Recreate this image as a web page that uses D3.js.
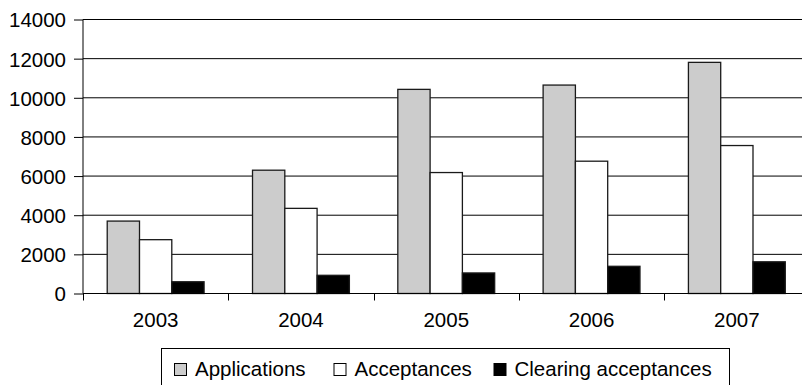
<!DOCTYPE html>
<html>
<head>
<meta charset="utf-8">
<script src="https://cdn.jsdelivr.net/npm/d3@7"></script>
<style>
  html, body { margin: 0; padding: 0; background: #fff; }
  svg { display: block; }
  text { font-family: "Liberation Sans", Arial, sans-serif; fill: #000; }
</style>
</head>
<body>
<svg id="chart" width="802" height="385"></svg>
<script>
const categories = ["2003", "2004", "2005", "2006", "2007"];
const seriesNames = ["Applications", "Acceptances", "Clearing acceptances"];
const applications = [3700, 6300, 10430, 10650, 11810];
const acceptances = [2750, 4350, 6180, 6760, 7560];
const clearing = [600, 930, 1050, 1390, 1620];
const yTicks = [0, 2000, 4000, 6000, 8000, 10000, 12000, 14000];
const seriesColors = ["#cccccc", "#ffffff", "#000000"];

const seriesValues = [applications, acceptances, clearing];
const rows = categories.map((c, i) => ({
  cat: c,
  vals: seriesNames.map((s, k) => ({ s, v: seriesValues[k][i], color: seriesColors[k] }))
}));

const svg = d3.select("#chart");
const fontSize = 20.5;

const x = d3.scaleBand().domain(categories).range([83, 809.5]).padding(0);
const xs = d3.scaleBand().domain(seriesNames).range([0, x.bandwidth()])
  .paddingInner(0).paddingOuter(0.75);
const y = d3.scaleLinear().domain([0, 14000]).range([293.5, 19.5]);

// gridlines
svg.append("g").selectAll("line").data(yTicks.filter(t => t > 0)).join("line")
  .attr("x1", 83).attr("x2", 809.5)
  .attr("y1", d => y(d)).attr("y2", d => y(d))
  .attr("stroke", "#000").attr("stroke-width", 1);

// bars
const groups = svg.append("g").selectAll("g").data(rows).join("g")
  .attr("transform", d => `translate(${x(d.cat)},0)`);
groups.selectAll("rect").data(d => d.vals).join("rect")
  .attr("x", d => xs(d.s))
  .attr("width", xs.bandwidth())
  .attr("y", d => y(d.v))
  .attr("height", d => y(0) - y(d.v))
  .attr("fill", d => d.color)
  .attr("stroke", "#1a1a1a").attr("stroke-width", 1.3);

// y axis
const yAxis = d3.axisLeft(y).tickValues(yTicks).tickFormat(d3.format("d"))
  .tickSize(9).tickPadding(8);
const gy = svg.append("g").attr("transform", "translate(83,0)").call(yAxis);
gy.select(".domain").attr("stroke", "#000").attr("d", `M0,${y(14000)}V${y(0)}`);
gy.selectAll(".tick line").attr("stroke", "#000");
gy.selectAll(".tick text").style("font-size", fontSize + "px").attr("dy", "0.36em");

// x axis
const gx = svg.append("g").attr("transform", `translate(0,${y(0)})`);
gx.append("line").attr("x1", 83).attr("x2", 809.5).attr("y1", 0).attr("y2", 0)
  .attr("stroke", "#000");
const boundaries = categories.map(c => x(c)).concat([x.range()[1]]);
gx.selectAll("line.bt").data(boundaries).join("line").attr("class", "bt")
  .attr("x1", d => Math.round(d) + 0.5).attr("x2", d => Math.round(d) + 0.5)
  .attr("y1", 0).attr("y2", 7).attr("stroke", "#000");
gx.selectAll("text").data(categories).join("text")
  .attr("x", d => x(d) + x.bandwidth() / 2)
  .attr("y", 33.5)
  .attr("text-anchor", "middle")
  .style("font-size", fontSize + "px")
  .text(d => d);

// legend
const legend = svg.append("g");
legend.append("rect").attr("x", 161.5).attr("y", 348.5).attr("width", 568).attr("height", 42)
  .attr("fill", "#fff").attr("stroke", "#000").attr("stroke-width", 1);
const itemStarts = [174, 333.5, 493.5];
seriesNames.forEach((s, k) => {
  const g = legend.append("g").attr("transform", `translate(${itemStarts[k]},0)`);
  g.append("rect").attr("x", 0.5).attr("y", 363.5).attr("width", 12).attr("height", 12)
    .attr("fill", seriesColors[k]).attr("stroke", "#000").attr("stroke-width", 1);
  g.append("text").attr("x", 21).attr("y", 376).style("font-size", fontSize + "px").text(s);
});
</script>
</body>
</html>
